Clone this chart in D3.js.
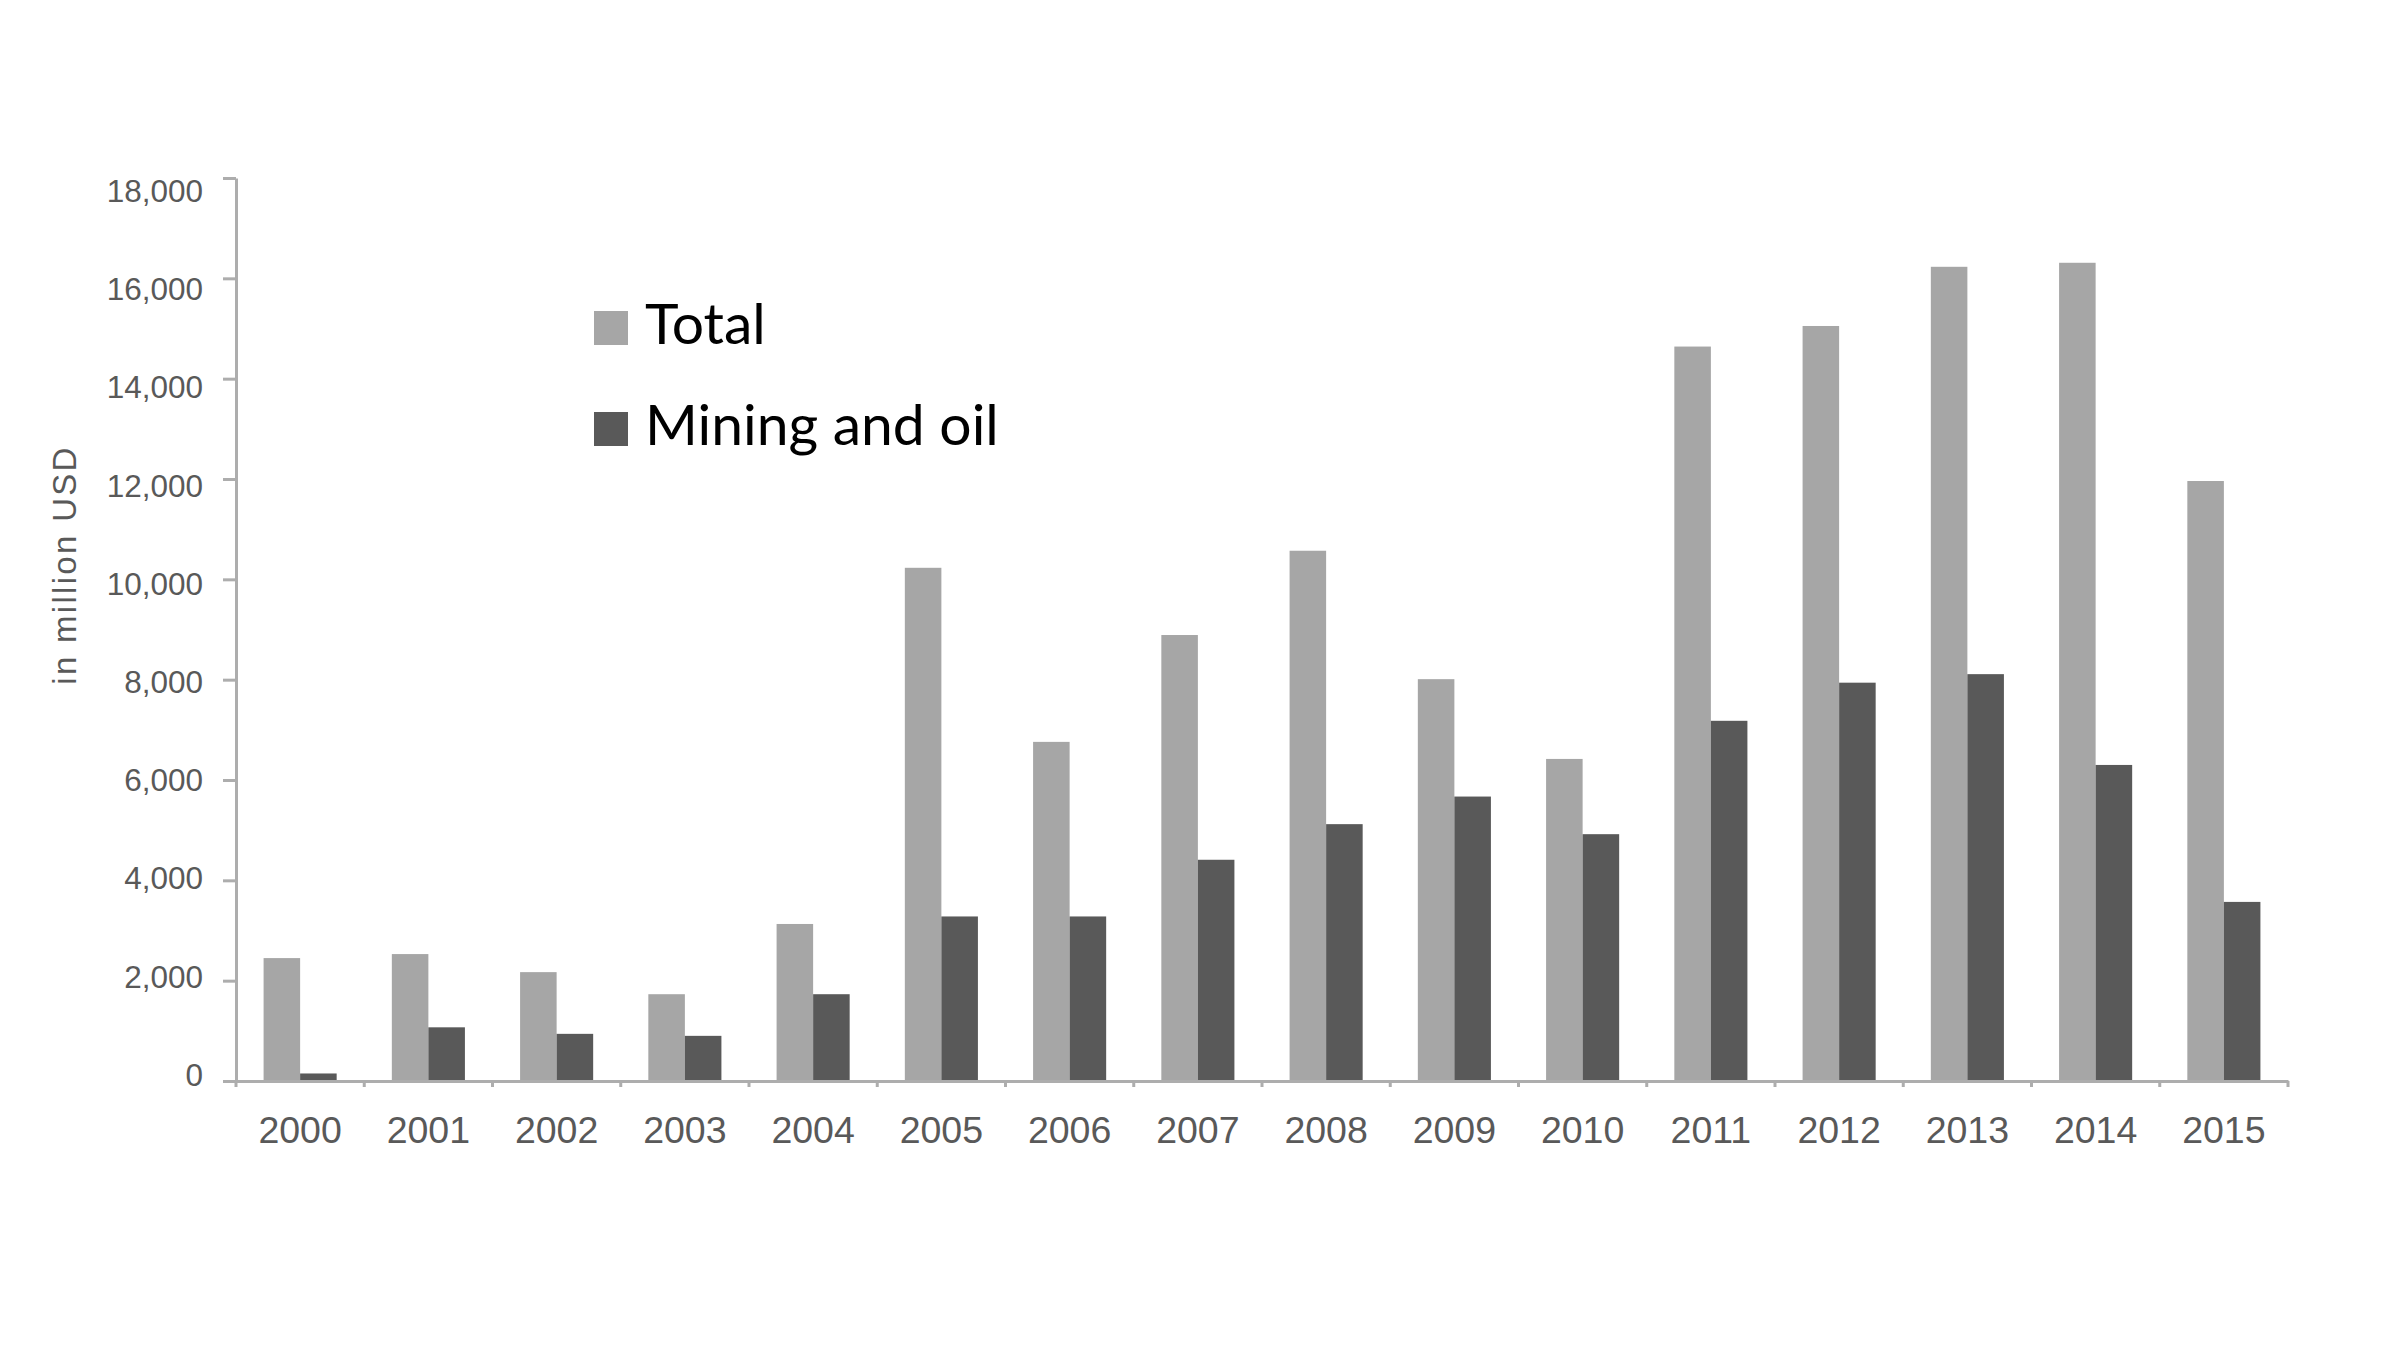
<!DOCTYPE html>
<html>
<head>
<meta charset="utf-8">
<script src="https://cdnjs.cloudflare.com/ajax/libs/d3/7.8.5/d3.min.js"></script>
<style>
  html, body { margin: 0; padding: 0; background: #ffffff; }
  #graphicContainer { width: 2400px; height: 1350px; }
  .axisgroup text { font-family: "Liberation Sans", Arial, sans-serif; fill: #595959; }
</style>
</head>
<body>
<div id="graphicContainer"></div>
<script>

var years = ["2000", "2001", "2002", "2003", "2004", "2005", "2006", "2007",
             "2008", "2009", "2010", "2011", "2012", "2013", "2014", "2015"]

var total = [2450, 2530, 2170, 1730, 3130, 10230, 6760, 8890,
             10570, 8010, 6420, 14640, 15050, 16230, 16310, 11960]

var miningOil = [150, 1070, 940, 900, 1730, 3280, 3280, 4410,
                 5120, 5670, 4920, 7180, 7940, 8110, 6300, 3570]

var yTicks = [0, 2000, 4000, 6000, 8000, 10000, 12000, 14000, 16000, 18000]

var userKey = [
  { key: "Total", colour: "#a6a6a6" },
  { key: "Mining and oil", colour: "#595959" }
]

var keys = userKey.map(d => d.key)

var data = years.map((y, i) => ({ year: y, "Total": total[i], "Mining and oil": miningOil[i] }))

var width = 2400
var height = 1350

var margin = { top: 178, right: 112, bottom: 269, left: 236 }

var svg = d3.select("#graphicContainer").append("svg")
  .attr("width", width)
  .attr("height", height)

var x0 = d3.scaleBand()
  .domain(years)
  .range([margin.left, width - margin.right])
  .padding(0)

var x1 = d3.scaleBand()
  .domain(keys)
  .range([0, x0.bandwidth()])
  .paddingInner(0)
  .paddingOuter(0.755)

var y = d3.scaleLinear()
  .domain([0, 18000])
  .range([height - margin.bottom, margin.top])

// tick labels in the original sit on a slightly tighter spacing than the ticks
var yLabel = d3.scaleLinear()
  .domain([0, 18000])
  .range([height - margin.bottom - 7, margin.top + 12])

var color = d3.scaleOrdinal()
  .domain(userKey.map(d => d.key))
  .range(userKey.map(d => d.colour))

// y axis
var yAxis = svg.append("g")
  .attr("class", "axisgroup")
  .attr("transform", `translate(${margin.left},0)`)
  .call(d3.axisLeft(y)
        .tickValues(yTicks)
        .tickFormat(d3.format(","))
        .tickSize(13)
        .tickSizeOuter(0)
        .tickPadding(20))

yAxis.selectAll("path, line")
  .attr("stroke", "#adadad")
  .attr("stroke-width", 3)

yAxis.selectAll(".tick text")
  .attr("font-size", "31.5px")
  .attr("y", d => yLabel(d) - y(d))
  .attr("dy", "0.36em")

// bars
var groups = svg.append("g")
  .selectAll("g")
  .data(data)
  .enter()
  .append("g")
  .attr("transform", d => `translate(${x0(d.year)},0)`)

groups.selectAll("rect")
  .data(d => keys.map(key => ({ key, value: d[key] })))
  .enter()
  .append("rect")
  .attr("x", d => x1(d.key))
  .attr("y", d => y(d.value))
  .attr("width", x1.bandwidth())
  .attr("height", d => y(0) - y(d.value))
  .attr("fill", d => color(d.key))

// x axis
var xAxis = svg.append("g")
  .attr("class", "axisgroup")
  .attr("transform", `translate(0,${y(0)})`)
  .call(d3.axisBottom(x0)
        .tickSize(0)
        .tickSizeOuter(0)
        .tickPadding(35))

xAxis.select(".domain")
  .attr("stroke", "#adadad")
  .attr("stroke-width", 3)

xAxis.selectAll("text")
  .attr("font-size", "37.5px")

var bounds = years.map(d => x0(d)).concat([x0.range()[1]])

xAxis.selectAll(".boundTick")
  .data(bounds)
  .enter()
  .append("line")
  .attr("class", "boundTick")
  .attr("x1", d => d)
  .attr("x2", d => d)
  .attr("y1", 0)
  .attr("y2", 6)
  .attr("stroke", "#adadad")
  .attr("stroke-width", 3)

// y axis title
svg.append("text")
  .attr("transform", `translate(76,565) rotate(-90)`)
  .attr("text-anchor", "middle")
  .attr("font-family", "Liberation Sans, Arial, sans-serif")
  .attr("font-size", "33px")
  .attr("letter-spacing", "2.3px")
  .attr("fill", "#595959")
  .text("in million USD")

// legend
var legend = svg.append("g")
  .attr("transform", "translate(594,311)")

var keyRow = legend.selectAll("g")
  .data(userKey)
  .enter()
  .append("g")
  .attr("transform", (d, i) => `translate(0,${i * 101})`)

keyRow.append("rect")
  .attr("width", 34)
  .attr("height", 34)
  .attr("fill", d => d.colour)

keyRow.append("text")
  .attr("x", 51)
  .attr("y", 33)
  .attr("font-family", "Lato, 'Open Sans', sans-serif")
  .attr("font-size", "57px")
  .attr("fill", "#000000")
  .text(d => d.key)

</script>
</body>
</html>
